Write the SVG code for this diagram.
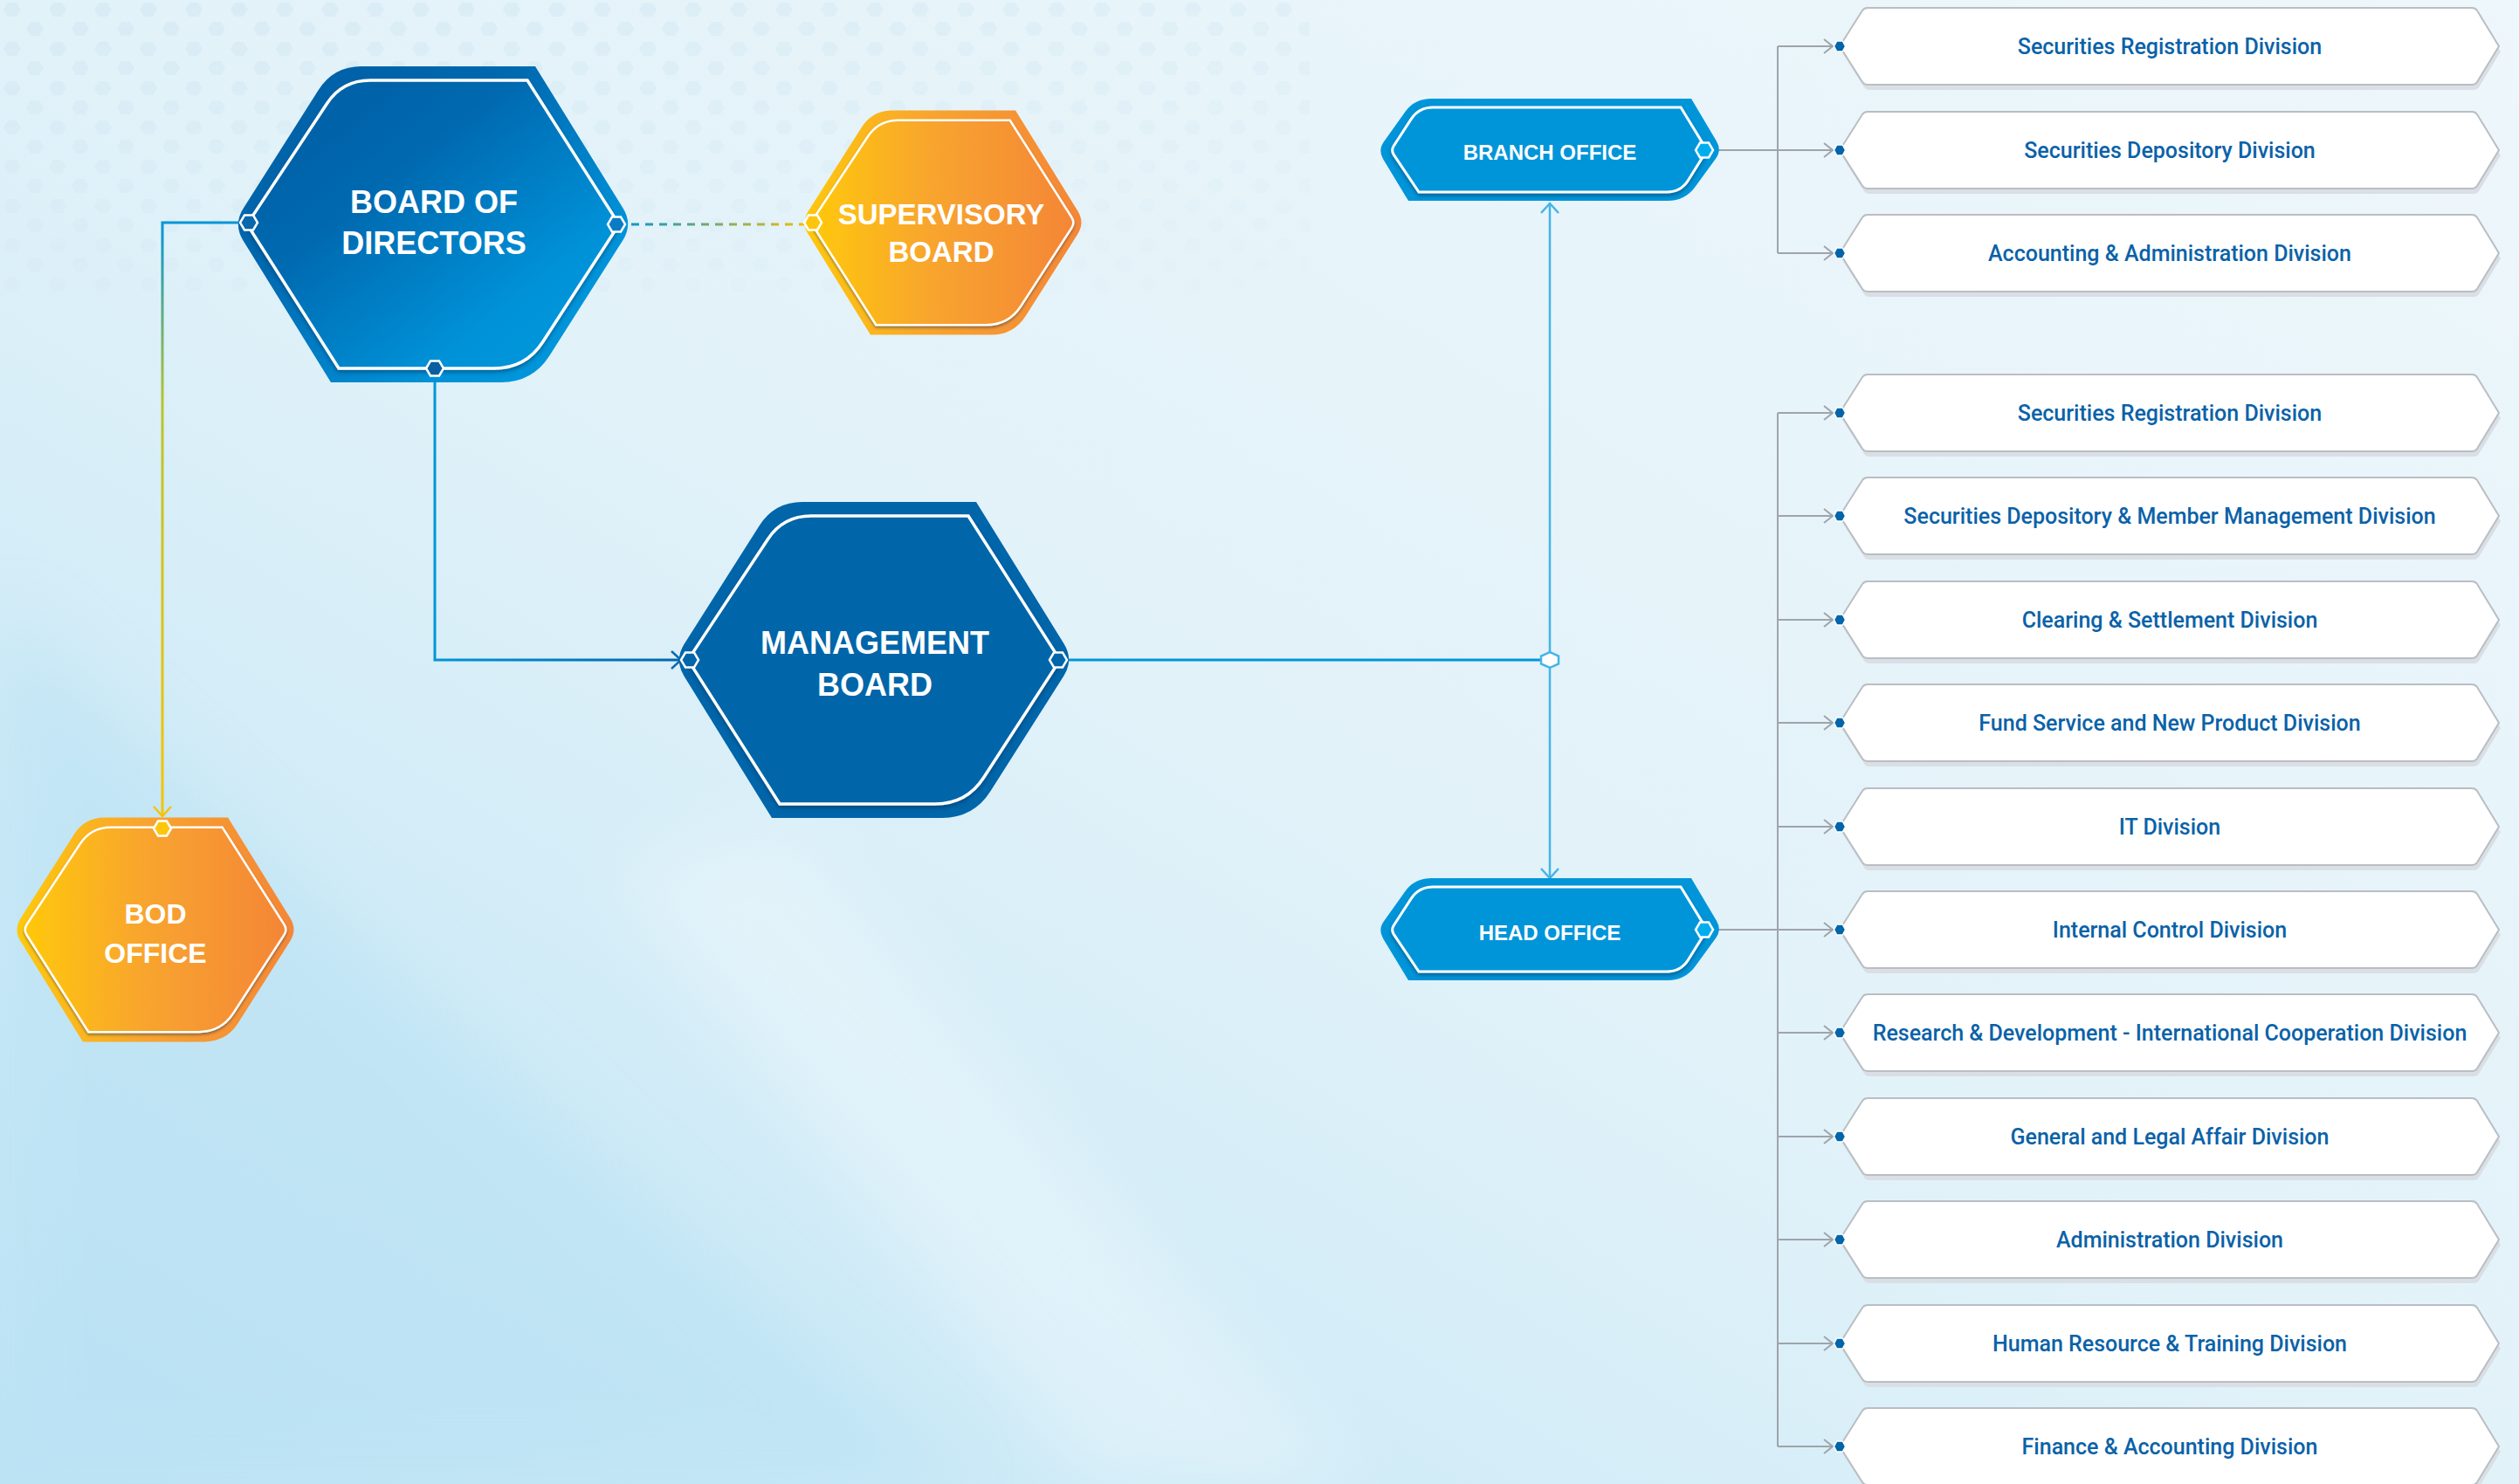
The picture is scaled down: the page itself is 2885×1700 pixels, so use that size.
<svg xmlns="http://www.w3.org/2000/svg" xmlns:xlink="http://www.w3.org/1999/xlink" width="2885" height="1700" viewBox="0 0 2885 1700">
<style>
.hexTxt{font-family:"Liberation Sans",Arial,sans-serif;font-weight:bold;fill:#ffffff;text-anchor:middle}
.divTxt{font-family:Roboto,"Liberation Sans",sans-serif;font-weight:500;font-size:25px;fill:#0a62a8;text-anchor:middle}
.divBox{fill:#ffffff;stroke:#b9bec3;stroke-width:2}
.divShadow{fill:#d9dfe4}
.grayLine{fill:none;stroke:#9ea4aa;stroke-width:2}
.innerLine{stroke:#ffffff;stroke-width:3.5}
</style>
<defs>
<linearGradient id="bg" x1="1" y1="0" x2="0" y2="1">
<stop offset="0" stop-color="#eef7fb"/>
<stop offset="0.5" stop-color="#e2f2f9"/>
<stop offset="1" stop-color="#bde4f5"/>
</linearGradient>
<filter id="soft" x="-20%" y="-20%" width="140%" height="140%">
<feGaussianBlur stdDeviation="40"/>
</filter>
<linearGradient id="gBlue" x1="0" y1="0" x2="1" y2="1">
<stop offset="0" stop-color="#005ea3"/>
<stop offset="0.35" stop-color="#0068af"/>
<stop offset="0.75" stop-color="#0092d8"/>
<stop offset="1" stop-color="#0098dc"/>
</linearGradient>
<linearGradient id="gOrange" x1="0" y1="0" x2="1" y2="0">
<stop offset="0" stop-color="#ffc80c"/>
<stop offset="0.45" stop-color="#f8a52e"/>
<stop offset="1" stop-color="#f48637"/>
</linearGradient>
<linearGradient id="gBodLine" gradientUnits="userSpaceOnUse" x1="0" y1="255" x2="0" y2="945">
<stop offset="0" stop-color="#0095d9"/>
<stop offset="0.3" stop-color="#b9c330"/>
<stop offset="1" stop-color="#f8c400"/>
</linearGradient>
<linearGradient id="gDash" gradientUnits="userSpaceOnUse" x1="707" y1="0" x2="930" y2="0">
<stop offset="0" stop-color="#0095d9"/>
<stop offset="1" stop-color="#f5c000"/>
</linearGradient>
<linearGradient id="gMgmt" gradientUnits="userSpaceOnUse" x1="498" y1="0" x2="785" y2="0">
<stop offset="0" stop-color="#0095d9"/>
<stop offset="1" stop-color="#0065a9"/>
</linearGradient>
<linearGradient id="fadeDots" x1="0" y1="0" x2="1" y2="1">
<stop offset="0" stop-color="#fff" stop-opacity="1"/>
<stop offset="1" stop-color="#fff" stop-opacity="0"/>
</linearGradient>
<mask id="dotMask"><rect x="0" y="0" width="1500" height="340" fill="url(#fadeDots)"/></mask>
<pattern id="dots" width="52" height="45" patternUnits="userSpaceOnUse">
<path d="M4,11 L9,3 L19,3 L24,11 L19,19 L9,19Z" fill="#d8ebf4"/>
<path d="M30,33 L35,25 L45,25 L50,33 L45,41 L35,41Z" fill="#d8ebf4"/>
</pattern>
<filter id="innerShadow" x="-10%" y="-10%" width="120%" height="120%">
<feDropShadow dx="0" dy="3" stdDeviation="2" flood-color="#002f55" flood-opacity="0.45"/>
</filter>
<path id="hexOuter" d="M-82,-181 L117,-181 L217.4,-18.7 Q229,0 217.2,18.6 L133.3,150.6 Q114,181 78,181 L-117,181 L-217.4,18.7 Q-229,0 -217.2,-18.6 L-131.2,-154 Q-114,-181 -82,-181Z"/>
<path id="hexInner" d="M-72,-165 L108,-165 L207.6,-8.4 Q213,0 207.6,8.4 L125.6,134.8 Q106,165 70,165 L-108,165 L-207.6,8.4 Q-213,0 -207.5,-8.4 L-121.6,-138.3 Q-104,-165 -72,-165Z"/>
<path id="offOuter" d="M-135,-59 L162,-59 L190.9,-10.3 Q197,0 190,9.7 L166.7,41.8 Q155,58 135,58 L-162,58 L-190.9,10.3 Q-197,0 -190,-9.8 L-165.4,-44.3 Q-155,-59 -135,-59Z"/>
<path id="offInner" d="M-134,-49 L150,-49 L176.8,-5.1 Q180,0 176.8,5.1 L158.5,34.5 Q150,48 134,48 L-150,48 L-178.8,5.1 Q-182,0 -178.7,-5 L-158.8,-35.6 Q-150,-49 -134,-49Z"/>
<path id="divShape" d="M0,0 L26,-41 Q28,-44 32,-44 L724,-44 Q728,-44 730,-41 L755,0 L730,41 Q728,44 724,44 L32,44 Q28,44 26,41 Z"/>
<path id="dot" d="M-10,0 L-5,-8.5 L5,-8.5 L10,0 L5,8.5 L-5,8.5Z"/>
<path id="smallDot" d="M-6.5,0 L-3.3,-6 L3.3,-6 L6.5,0 L3.3,6 L-3.3,6Z"/>
<marker id="arrGray" viewBox="-12 -10 14 20" markerWidth="14" markerHeight="20" refX="0" refY="0" orient="auto" markerUnits="userSpaceOnUse">
<path d="M-10,-8 L0,0 L-10,8" fill="none" stroke="#9ea4aa" stroke-width="2"/>
</marker>
<marker id="arrBlue" viewBox="-14 -12 16 24" markerWidth="16" markerHeight="24" refX="0" refY="0" orient="auto" markerUnits="userSpaceOnUse">
<path d="M-11,-10 L0,0 L-11,10" fill="none" stroke="#0a6aae" stroke-width="2.5"/>
</marker>
<marker id="arrLight" viewBox="-14 -12 16 24" markerWidth="16" markerHeight="24" refX="0" refY="0" orient="auto" markerUnits="userSpaceOnUse">
<path d="M-11,-10 L0,0 L-11,10" fill="none" stroke="#45b4e8" stroke-width="2.5"/>
</marker>
<marker id="arrYellow" viewBox="-14 -12 16 24" markerWidth="16" markerHeight="24" refX="0" refY="0" orient="auto" markerUnits="userSpaceOnUse">
<path d="M-11,-10 L0,0 L-11,10" fill="none" stroke="#f5c400" stroke-width="2.5"/>
</marker>
</defs>

<g id="background">
<rect x="0" y="0" width="2885" height="1700" fill="url(#bg)"/>
<path d="M0,700 L1100,1700 L0,1700 Z" fill="#b6e0f3" opacity="0.5" filter="url(#soft)"/>
<path d="M700,1000 L1250,1700 L1550,1700 L900,950 Z" fill="#ffffff" opacity="0.3" filter="url(#soft)"/>
<rect x="0" y="0" width="1500" height="340" fill="url(#dots)" mask="url(#dotMask)"/>
</g>

<g id="connectors">
<path d="M285,255 H186 V935" fill="none" stroke="url(#gBodLine)" stroke-width="3" marker-end="url(#arrYellow)"/>
<path d="M707,257 H930" fill="none" stroke="url(#gDash)" stroke-width="3" stroke-dasharray="9,7"/>
<path d="M498,422 V756 H780" fill="none" stroke="url(#gMgmt)" stroke-width="3" marker-end="url(#arrBlue)"/>
<path d="M1212,756 H1775" fill="none" stroke="#0095d9" stroke-width="3"/>
<path d="M1775,756 V233" fill="none" stroke="#45b4e8" stroke-width="2.5" marker-end="url(#arrLight)"/>
<path d="M1775,756 V1006" fill="none" stroke="#45b4e8" stroke-width="2.5" marker-end="url(#arrLight)"/>
<path d="M1766,756 L1770.5,746 L1779.5,746 L1784,756 L1779.5,766 L1770.5,766Z" transform="rotate(90 1775 756)" fill="#ffffff" stroke="#45b4e8" stroke-width="2.5"/>
<path class="grayLine" d="M1962,172 H2036"/>
<path class="grayLine" d="M2036,53 V290"/>
<path class="grayLine" d="M2036,53 H2099" marker-end="url(#arrGray)"/>
<path class="grayLine" d="M2036,172 H2099" marker-end="url(#arrGray)"/>
<path class="grayLine" d="M2036,290 H2099" marker-end="url(#arrGray)"/>
<path class="grayLine" d="M1962,1065 H2036"/>
<path class="grayLine" d="M2036,473 V1657"/>
<path class="grayLine" d="M2036,473 H2099" marker-end="url(#arrGray)"/>
<path class="grayLine" d="M2036,591 H2099" marker-end="url(#arrGray)"/>
<path class="grayLine" d="M2036,710 H2099" marker-end="url(#arrGray)"/>
<path class="grayLine" d="M2036,828 H2099" marker-end="url(#arrGray)"/>
<path class="grayLine" d="M2036,947 H2099" marker-end="url(#arrGray)"/>
<path class="grayLine" d="M2036,1065 H2099" marker-end="url(#arrGray)"/>
<path class="grayLine" d="M2036,1183 H2099" marker-end="url(#arrGray)"/>
<path class="grayLine" d="M2036,1302 H2099" marker-end="url(#arrGray)"/>
<path class="grayLine" d="M2036,1420 H2099" marker-end="url(#arrGray)"/>
<path class="grayLine" d="M2036,1539 H2099" marker-end="url(#arrGray)"/>
<path class="grayLine" d="M2036,1657 H2099" marker-end="url(#arrGray)"/>
</g>

<g id="node-board-of-directors">
<use href="#hexOuter" transform="translate(496,257)" fill="url(#gBlue)"/>
<use href="#hexInner" transform="translate(496,257)" fill="url(#gBlue)" class="innerLine" filter="url(#innerShadow)"/>
<text class="hexTxt" x="497" y="244" font-size="36">BOARD OF</text>
<text class="hexTxt" x="497" y="291" font-size="36">DIRECTORS</text>
<use href="#dot" transform="translate(285,255)" fill="#0a68ad" stroke="#ffffff" stroke-width="2.5"/>
<use href="#dot" transform="translate(706,257)" fill="#0a7cc4" stroke="#ffffff" stroke-width="2.5"/>
<use href="#dot" transform="translate(498,422)" fill="#0a5fa3" stroke="#ffffff" stroke-width="2.5"/>
</g>

<g id="node-supervisory-board">
<use href="#hexOuter" transform="translate(1080,255) scale(0.71)" fill="url(#gOrange)"/>
<use href="#hexInner" transform="translate(1080,255) scale(0.71)" fill="url(#gOrange)" stroke="#ffffff" stroke-width="3.5" filter="url(#innerShadow)"/>
<text class="hexTxt" x="1078" y="257" font-size="33">SUPERVISORY</text>
<text class="hexTxt" x="1078" y="300" font-size="33">BOARD</text>
<use href="#dot" transform="translate(931,255)" fill="#fdc60c" stroke="#ffffff" stroke-width="2.5"/>
</g>

<g id="node-management-board">
<use href="#hexOuter" transform="translate(1001,756)" fill="#0065a9"/>
<use href="#hexInner" transform="translate(1001,756)" fill="#0065a9" class="innerLine" filter="url(#innerShadow)"/>
<text class="hexTxt" x="1002" y="749" font-size="36">MANAGEMENT</text>
<text class="hexTxt" x="1002" y="797" font-size="36">BOARD</text>
<use href="#dot" transform="translate(790,756)" fill="#0065a9" stroke="#ffffff" stroke-width="2.5"/>
<use href="#dot" transform="translate(1212,756)" fill="#0065a9" stroke="#ffffff" stroke-width="2.5"/>
</g>

<g id="node-bod-office">
<use href="#hexOuter" transform="translate(178,1065) scale(0.71)" fill="url(#gOrange)"/>
<use href="#hexInner" transform="translate(178,1065) scale(0.71)" fill="url(#gOrange)" stroke="#ffffff" stroke-width="3.5" filter="url(#innerShadow)"/>
<text class="hexTxt" x="178" y="1058" font-size="32">BOD</text>
<text class="hexTxt" x="178" y="1103" font-size="32">OFFICE</text>
<use href="#dot" transform="translate(186,949)" fill="#fdc60c" stroke="#ffffff" stroke-width="2.5"/>
</g>

<g id="node-branch-office">
<use href="#offOuter" transform="translate(1775,172)" fill="#0095d9"/>
<use href="#offInner" transform="translate(1775,172)" fill="#0095d9" stroke="#ffffff" stroke-width="3" filter="url(#innerShadow)"/>
<text class="hexTxt" x="1775" y="183" font-size="24">BRANCH OFFICE</text>
<use href="#dot" transform="translate(1952,172)" fill="#00aeef" stroke="#ffffff" stroke-width="2.5"/>
</g>

<g id="node-head-office">
<use href="#offOuter" transform="translate(1775,1065)" fill="#0095d9"/>
<use href="#offInner" transform="translate(1775,1065)" fill="#0095d9" stroke="#ffffff" stroke-width="3" filter="url(#innerShadow)"/>
<text class="hexTxt" x="1775" y="1077" font-size="24">HEAD OFFICE</text>
<use href="#dot" transform="translate(1952,1065)" fill="#00aeef" stroke="#ffffff" stroke-width="2.5"/>
</g>

<g id="node-b-securities-registration">
<use href="#divShape" class="divShadow" transform="translate(2109,59)"/>
<use href="#divShape" class="divBox" transform="translate(2107,53)"/>
<use href="#smallDot" transform="translate(2107,53)" fill="#0065a9" stroke="#ffffff" stroke-width="1.5"/>
<text class="divTxt" x="2485" y="62">Securities Registration Division</text>
</g>
<g id="node-b-securities-depository">
<use href="#divShape" class="divShadow" transform="translate(2109,178)"/>
<use href="#divShape" class="divBox" transform="translate(2107,172)"/>
<use href="#smallDot" transform="translate(2107,172)" fill="#0065a9" stroke="#ffffff" stroke-width="1.5"/>
<text class="divTxt" x="2485" y="181">Securities Depository Division</text>
</g>
<g id="node-b-accounting-administration">
<use href="#divShape" class="divShadow" transform="translate(2109,296)"/>
<use href="#divShape" class="divBox" transform="translate(2107,290)"/>
<use href="#smallDot" transform="translate(2107,290)" fill="#0065a9" stroke="#ffffff" stroke-width="1.5"/>
<text class="divTxt" x="2485" y="299">Accounting &amp; Administration Division</text>
</g>

<g id="node-h-securities-registration">
<use href="#divShape" class="divShadow" transform="translate(2109,479)"/>
<use href="#divShape" class="divBox" transform="translate(2107,473)"/>
<use href="#smallDot" transform="translate(2107,473)" fill="#0065a9" stroke="#ffffff" stroke-width="1.5"/>
<text class="divTxt" x="2485" y="482">Securities Registration Division</text>
</g>
<g id="node-h-depository-member">
<use href="#divShape" class="divShadow" transform="translate(2109,597)"/>
<use href="#divShape" class="divBox" transform="translate(2107,591)"/>
<use href="#smallDot" transform="translate(2107,591)" fill="#0065a9" stroke="#ffffff" stroke-width="1.5"/>
<text class="divTxt" x="2485" y="600">Securities Depository &amp; Member Management Division</text>
</g>
<g id="node-h-clearing-settlement">
<use href="#divShape" class="divShadow" transform="translate(2109,716)"/>
<use href="#divShape" class="divBox" transform="translate(2107,710)"/>
<use href="#smallDot" transform="translate(2107,710)" fill="#0065a9" stroke="#ffffff" stroke-width="1.5"/>
<text class="divTxt" x="2485" y="719">Clearing &amp; Settlement Division</text>
</g>
<g id="node-h-fund-service">
<use href="#divShape" class="divShadow" transform="translate(2109,834)"/>
<use href="#divShape" class="divBox" transform="translate(2107,828)"/>
<use href="#smallDot" transform="translate(2107,828)" fill="#0065a9" stroke="#ffffff" stroke-width="1.5"/>
<text class="divTxt" x="2485" y="837">Fund Service and New Product Division</text>
</g>
<g id="node-h-it">
<use href="#divShape" class="divShadow" transform="translate(2109,953)"/>
<use href="#divShape" class="divBox" transform="translate(2107,947)"/>
<use href="#smallDot" transform="translate(2107,947)" fill="#0065a9" stroke="#ffffff" stroke-width="1.5"/>
<text class="divTxt" x="2485" y="956">IT Division</text>
</g>
<g id="node-h-internal-control">
<use href="#divShape" class="divShadow" transform="translate(2109,1071)"/>
<use href="#divShape" class="divBox" transform="translate(2107,1065)"/>
<use href="#smallDot" transform="translate(2107,1065)" fill="#0065a9" stroke="#ffffff" stroke-width="1.5"/>
<text class="divTxt" x="2485" y="1074">Internal Control Division</text>
</g>
<g id="node-h-research-development">
<use href="#divShape" class="divShadow" transform="translate(2109,1189)"/>
<use href="#divShape" class="divBox" transform="translate(2107,1183)"/>
<use href="#smallDot" transform="translate(2107,1183)" fill="#0065a9" stroke="#ffffff" stroke-width="1.5"/>
<text class="divTxt" x="2485" y="1192">Research &amp; Development - International Cooperation Division</text>
</g>
<g id="node-h-general-legal">
<use href="#divShape" class="divShadow" transform="translate(2109,1308)"/>
<use href="#divShape" class="divBox" transform="translate(2107,1302)"/>
<use href="#smallDot" transform="translate(2107,1302)" fill="#0065a9" stroke="#ffffff" stroke-width="1.5"/>
<text class="divTxt" x="2485" y="1311">General and Legal Affair Division</text>
</g>
<g id="node-h-administration">
<use href="#divShape" class="divShadow" transform="translate(2109,1426)"/>
<use href="#divShape" class="divBox" transform="translate(2107,1420)"/>
<use href="#smallDot" transform="translate(2107,1420)" fill="#0065a9" stroke="#ffffff" stroke-width="1.5"/>
<text class="divTxt" x="2485" y="1429">Administration Division</text>
</g>
<g id="node-h-human-resource">
<use href="#divShape" class="divShadow" transform="translate(2109,1545)"/>
<use href="#divShape" class="divBox" transform="translate(2107,1539)"/>
<use href="#smallDot" transform="translate(2107,1539)" fill="#0065a9" stroke="#ffffff" stroke-width="1.5"/>
<text class="divTxt" x="2485" y="1548">Human Resource &amp; Training Division</text>
</g>
<g id="node-h-finance-accounting">
<use href="#divShape" class="divShadow" transform="translate(2109,1663)"/>
<use href="#divShape" class="divBox" transform="translate(2107,1657)"/>
<use href="#smallDot" transform="translate(2107,1657)" fill="#0065a9" stroke="#ffffff" stroke-width="1.5"/>
<text class="divTxt" x="2485" y="1666">Finance &amp; Accounting Division</text>
</g>
</svg>
